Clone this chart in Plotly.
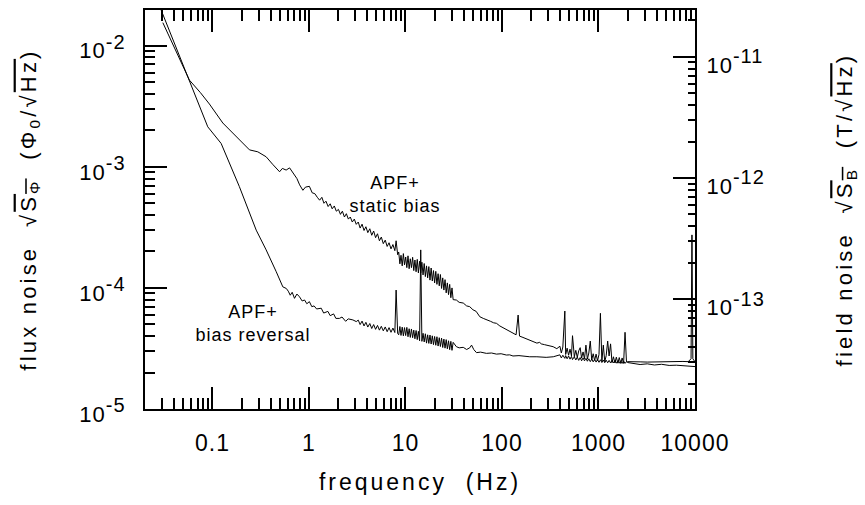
import plotly.graph_objects as go

# ---------------- data ----------------
# static bias, low-frequency sparse part
static_f1 = [0.0306, 0.04, 0.0577, 0.075, 0.093, 0.128, 0.176, 0.242, 0.295, 0.36, 0.42, 0.496, 0.53, 0.58,
             0.63, 0.68, 0.75, 0.80, 0.865, 0.92, 1.01, 1.08, 1.15, 1.22, 1.29, 1.36, 1.43, 1.50, 1.58, 1.66,
             1.74, 1.83, 1.92, 2.02, 2.12, 2.22, 2.33, 2.44, 2.56, 2.68, 2.81, 2.95, 3.09]
static_s1 = [0.0155, 0.0098, 0.0052, 0.0041, 0.0033, 0.0023, 0.00177, 0.00138, 0.00133, 0.00121, 0.00105,
             9.1e-4, 9.7e-4, 9.4e-4, 9.8e-4, 8.9e-4, 8.0e-4, 7.1e-4, 6.4e-4, 6.8e-4, 6.9e-4, 6.1e-4, 6.0e-4,
             5.6e-4, 5.3e-4, 5.6e-4, 5.0e-4, 5.2e-4, 4.7e-4, 4.95e-4, 4.5e-4, 4.75e-4, 4.3e-4, 4.45e-4,
             4.05e-4, 4.3e-4, 3.85e-4, 4.1e-4, 3.7e-4, 3.85e-4, 3.5e-4, 3.7e-4, 3.35e-4]

# bias reversal, low-frequency sparse part
rev_f1 = [0.0294, 0.0577, 0.0894, 0.123, 0.19, 0.284, 0.36, 0.458, 0.536, 0.582, 0.61, 0.64, 0.67, 0.708,
          0.75, 0.797, 0.85, 0.90, 0.95, 1.01, 1.07, 1.13, 1.2, 1.34, 1.42, 1.57, 1.66, 1.8, 1.9, 2.07, 2.2,
          2.4, 2.55, 2.85, 3.09]
rev_s1 = [0.0197, 0.0052, 0.00214, 0.00156, 6.86e-4, 3.0e-4, 2.06e-4, 1.36e-4, 1.02e-4, 9.9e-5, 9.4e-5,
          8.7e-5, 9.2e-5, 8.2e-5, 8.9e-5, 8.45e-5, 7.8e-5, 7.95e-5, 7.4e-5, 7.7e-5, 7.0e-5, 7.1e-5, 6.7e-5,
          6.8e-5, 6.2e-5, 6.4e-5, 5.9e-5, 6.1e-5, 5.6e-5, 5.6e-5, 5.75e-5, 5.3e-5, 5.55e-5, 5.44e-5, 5.27e-5]

# dense noisy part 3.2 - 8.3 Hz (shared frequency bins)
dense_f2 = [3.24, 3.39, 3.55, 3.72, 3.89, 4.07, 4.27, 4.47, 4.68, 4.90, 5.13, 5.37, 5.62, 5.89, 6.17, 6.46,
            6.76, 7.08, 7.41, 7.76, 8.0, 8.13, 8.3]
static_s2 = [3.5e-4, 3.12e-4, 3.36e-4, 2.98e-4, 3.2e-4, 2.86e-4, 3.08e-4, 2.72e-4, 2.95e-4, 2.6e-4, 2.8e-4,
             2.45e-4, 2.63e-4, 2.32e-4, 2.48e-4, 2.2e-4, 2.36e-4, 2.1e-4, 2.28e-4, 2.03e-4, 2.45e-4, 2.25e-4,
             1.88e-4]
rev_s2 = [5.42e-5, 4.98e-5, 5.32e-5, 4.85e-5, 5.2e-5, 4.75e-5, 5.08e-5, 4.62e-5, 4.98e-5, 4.55e-5, 4.9e-5,
          4.48e-5, 4.82e-5, 4.42e-5, 4.76e-5, 4.35e-5, 4.7e-5, 4.3e-5, 4.66e-5, 4.28e-5, 9.6e-5, 5.0e-5, 4.2e-5]

# dense noisy part 8.5 - 31 Hz
dense_f3 = [8.51, 8.75, 8.99, 9.25, 9.51, 9.77, 10.05, 10.33, 10.62, 10.91, 11.22, 11.53, 11.86, 12.19, 12.53,
            12.88, 13.24, 13.61, 14.0, 14.39, 14.79, 15.21, 15.63, 16.07, 16.52, 16.98, 17.46, 17.95, 18.45,
            18.97, 19.5, 20.04, 20.61, 21.18, 21.78, 22.39, 23.01, 23.66, 24.32, 25.0, 25.7, 26.42, 27.16,
            27.93, 28.71, 29.51, 30.34, 31.19]
static_s3 = [1.98e-4, 1.58e-4, 1.86e-4, 1.52e-4, 1.92e-4, 1.55e-4, 1.80e-4, 1.47e-4, 1.84e-4, 1.44e-4,
             1.74e-4, 1.47e-4, 1.79e-4, 1.39e-4, 1.70e-4, 1.36e-4, 1.72e-4, 1.33e-4, 1.66e-4, 1.33e-4,
             1.63e-4, 1.28e-4, 1.59e-4, 1.24e-4, 1.52e-4, 1.21e-4, 1.50e-4, 1.16e-4, 1.46e-4, 1.14e-4,
             1.39e-4, 1.10e-4, 1.37e-4, 1.07e-4, 1.31e-4, 1.04e-4, 1.29e-4, 0.99e-4, 1.21e-4, 0.96e-4,
             1.17e-4, 0.91e-4, 1.10e-4, 0.88e-4, 1.07e-4, 0.83e-4, 1.00e-4, 0.80e-4]
rev_s3 = [4.10e-5, 4.80e-5, 4.05e-5, 4.74e-5, 4.02e-5, 4.70e-5, 4.04e-5, 4.72e-5, 3.95e-5, 4.60e-5, 3.90e-5,
          4.58e-5, 3.88e-5, 4.48e-5, 3.80e-5, 4.45e-5, 3.74e-5, 4.38e-5, 3.66e-5, 2.06e-4, 3.62e-5, 4.22e-5,
          3.58e-5, 4.18e-5, 3.50e-5, 4.10e-5, 3.48e-5, 4.08e-5, 3.44e-5, 4.02e-5, 3.40e-5, 3.97e-5, 3.36e-5,
          3.95e-5, 3.31e-5, 3.88e-5, 3.28e-5, 3.85e-5, 3.22e-5, 3.78e-5, 3.18e-5, 3.74e-5, 3.14e-5, 3.66e-5,
          3.09e-5, 3.62e-5, 3.05e-5, 3.55e-5]

# mid span, sparse part 33 - 370 Hz
static_f4 = [33.7, 36, 39.7, 43, 46.3, 50, 54, 58.9, 64, 70, 76, 82, 87.7, 95, 104, 113, 122, 130, 140, 147,
             152, 165, 180, 194, 210, 230, 246, 255, 275, 300, 339, 370]
static_s4 = [7.94e-5, 7.6e-5, 7.5e-5, 7.1e-5, 7.0e-5, 6.6e-5, 6.4e-5, 5.78e-5, 5.6e-5, 5.4e-5, 5.3e-5,
             5.15e-5, 5.1e-5, 4.85e-5, 4.65e-5, 4.5e-5, 4.35e-5, 4.22e-5, 4.1e-5, 5.97e-5, 4.0e-5, 3.9e-5,
             3.8e-5, 3.72e-5, 3.6e-5, 3.5e-5, 3.55e-5, 3.45e-5, 3.4e-5, 3.35e-5, 3.27e-5, 3.15e-5]
rev_f4 = [33.7, 36, 39.7, 43, 46.3, 48.4, 51, 54.4, 60, 69, 78, 87.7, 98, 111, 120, 130, 150, 170, 194, 230,
          287, 340]
rev_s4 = [3.27e-5, 3.2e-5, 3.23e-5, 3.1e-5, 3.2e-5, 3.37e-5, 3.1e-5, 2.92e-5, 2.95e-5, 2.88e-5, 2.9e-5,
          2.84e-5, 2.86e-5, 2.79e-5, 2.8e-5, 2.74e-5, 2.76e-5, 2.72e-5, 2.7e-5, 2.7e-5, 2.67e-5, 2.7e-5]

# mid span, dense part 400 - 1950 Hz (shared bins, with mains harmonics)
dense_f5 = [398, 412, 427, 448, 457, 473, 490, 507, 525, 538, 562, 582, 603, 624, 646, 668, 692, 716, 741,
            767, 794, 822, 851, 881, 912, 944, 977, 1012, 1047, 1084, 1122, 1161, 1202, 1245, 1288, 1334,
            1380, 1429, 1479, 1531, 1585, 1641, 1698, 1758, 1820, 1884, 1950]
static_s5 = [3.3e-5, 2.9e-5, 3.25e-5, 6.44e-5, 2.82e-5, 3.18e-5, 2.78e-5, 3.12e-5, 2.74e-5, 4.03e-5, 2.7e-5,
             3.05e-5, 2.67e-5, 3.02e-5, 3.21e-5, 2.63e-5, 2.96e-5, 2.6e-5, 3.37e-5, 2.58e-5, 2.9e-5, 3.64e-5,
             2.54e-5, 2.86e-5, 2.52e-5, 2.84e-5, 2.5e-5, 2.82e-5, 6.17e-5, 2.48e-5, 3.37e-5, 2.46e-5,
             2.76e-5, 3.64e-5, 2.74e-5, 3.45e-5, 2.42e-5, 2.7e-5, 2.4e-5, 2.68e-5, 2.39e-5, 2.66e-5, 2.38e-5,
             2.64e-5, 2.38e-5, 4.3e-5, 2.46e-5]
rev_s5 = [2.8e-5, 2.64e-5, 2.78e-5, 2.62e-5, 2.76e-5, 2.6e-5, 2.74e-5, 2.58e-5, 2.72e-5, 2.56e-5, 2.7e-5,
          2.54e-5, 2.68e-5, 2.52e-5, 2.66e-5, 2.5e-5, 2.64e-5, 2.5e-5, 2.62e-5, 2.48e-5, 2.6e-5, 2.46e-5,
          2.58e-5, 2.45e-5, 2.57e-5, 2.44e-5, 2.56e-5, 2.43e-5, 2.55e-5, 2.42e-5, 2.54e-5, 2.41e-5, 2.53e-5,
          2.41e-5, 2.52e-5, 2.4e-5, 2.52e-5, 2.4e-5, 2.51e-5, 2.39e-5, 2.5e-5, 2.39e-5, 2.5e-5, 2.38e-5,
          2.49e-5, 2.38e-5, 2.46e-5]

# high span 2 - 10 kHz
static_f6 = [2000, 2300, 2700, 3200, 3800, 4500, 5400, 6400, 7500, 8500, 9100, 9300, 9500, 10000]
static_s6 = [2.46e-5, 2.44e-5, 2.45e-5, 2.44e-5, 2.45e-5, 2.47e-5, 2.48e-5, 2.48e-5, 2.47e-5, 2.46e-5,
             2.6e-5, 2.74e-4, 2.6e-5, 2.45e-5]
rev_f6 = [2000, 2300, 2700, 3200, 3800, 4500, 5400, 6400, 7500, 8500, 9500, 10000]
rev_s6 = [2.42e-5, 2.38e-5, 2.33e-5, 2.36e-5, 2.31e-5, 2.34e-5, 2.29e-5, 2.3e-5, 2.27e-5, 2.26e-5, 2.25e-5,
          2.24e-5]

x_tickvals = [0.1, 1, 10, 100, 1000, 10000]
x_ticktext = ["0.1", "1", "10", "100", "1000", "10000"]
y_tickvals = [1e-5, 1e-4, 1e-3, 1e-2]
y_exponents = ["-5", "-4", "-3", "-2"]
y2_tickvals = [1e-13, 1e-12, 1e-11]
y2_exponents = ["-13", "-12", "-11"]
# --------------------------------------------------------------

static_f = static_f1 + dense_f2 + dense_f3 + static_f4 + dense_f5 + static_f6
static_s = static_s1 + static_s2 + static_s3 + static_s4 + static_s5 + static_s6
rev_f = rev_f1 + dense_f2 + dense_f3 + rev_f4 + dense_f5 + rev_f6
rev_s = rev_s1 + rev_s2 + rev_s3 + rev_s4 + rev_s5 + rev_s6

FONT = "Liberation Sans, Arial, sans-serif"
OV = "<span style='text-decoration:overline'>"


def power_label(e):
    return "10<sup><span style='font-size:20px'>" + e + "</span></sup>"


fig = go.Figure()
fig.add_trace(go.Scatter(x=static_f, y=static_s, mode="lines", line=dict(color="black", width=1),
                         showlegend=False, name="APF+ static bias"))
fig.add_trace(go.Scatter(x=rev_f, y=rev_s, mode="lines", line=dict(color="black", width=1),
                         showlegend=False, name="APF+ bias reversal"))
# invisible trace that carries the right-hand field axis
fig.add_trace(go.Scatter(x=[1], y=[1e-12], yaxis="y2", mode="markers", marker=dict(opacity=0),
                         showlegend=False, hoverinfo="skip"))

axis_common = dict(showline=True, linecolor="black", linewidth=2, ticks="inside", tickcolor="black",
                   tickwidth=1.5, ticklen=22, showgrid=False, zeroline=False, automargin=False)

fig.update_layout(
    width=865, height=505,
    margin=dict(l=145, r=170, t=10, b=96),
    paper_bgcolor="white", plot_bgcolor="white",
    font=dict(family=FONT, color="black"),
    xaxis=dict(type="log", range=[-1.699, 4], tickmode="array", tickvals=x_tickvals, ticktext=x_ticktext,
               mirror="ticks", ticklabelstandoff=12, tickfont=dict(family=FONT, size=23, color="black"),
               minor=dict(ticks="inside", ticklen=11, tickwidth=1.5, tickcolor="black", dtick="D1"),
               title=dict(text="frequency\u00a0\u00a0(Hz)", font=dict(family=FONT, size=23), standoff=19),
               **axis_common),
    yaxis=dict(type="log", range=[-5, -1.705], tickmode="array", tickvals=y_tickvals,
               ticktext=[power_label(e) for e in y_exponents],
               tickfont=dict(family=FONT, size=22, color="black"),
               minor=dict(ticks="inside", ticklen=10, tickwidth=1.5, tickcolor="black", dtick="D1"),
               ticklabelstandoff=13, ticklabelshift=5,
               title=dict(text="flux noise\u00a0\u00a0√" + OV + "S<sub>Φ</sub></span>\u00a0\u00a0(Φ<sub>0</sub>/√"
                          + OV + "Hz</span>)", font=dict(family=FONT, size=22), standoff=41),
               **axis_common),
    yaxis2=dict(type="log", range=[-13.908, -10.613], overlaying="y", side="right", tickmode="array",
                tickvals=y2_tickvals, ticktext=[power_label(e) for e in y2_exponents],
                tickfont=dict(family=FONT, size=22, color="black"),
                ticklabelstandoff=5, ticklabelshift=8,
                minor=dict(ticks="inside", ticklen=7, tickwidth=1.5, tickcolor="black", dtick="D1"),
                title=dict(text="field noise\u00a0\u00a0√" + OV + "S<sub>B</sub></span>\u00a0\u00a0(T/√"
                           + OV + "Hz</span>)", font=dict(family=FONT, size=22), standoff=78),
                **axis_common),
    annotations=[
        dict(x=0.895, y=-3.23, xref="x", yref="y", text="APF+<br>static bias", showarrow=False,
             font=dict(family=FONT, size=18, color="black"), align="center"),
        dict(x=-0.575, y=-4.29, xref="x", yref="y", text="APF+<br>bias reversal", showarrow=False,
             font=dict(family=FONT, size=18, color="black"), align="center"),
    ],
)

# page without the default body margin; the original lettering is slightly letter-spaced
post = """
document.body.style.margin = '0';
document.body.style.padding = '0';
var gd = document.getElementById('{plot_id}');
function spacing(){
  var set = function(sel, v){ gd.querySelectorAll(sel).forEach(function(t){ t.style.letterSpacing = v; }); };
  set('.xtick text, .ytick text, .y2tick text', '1px');
  set('.xtitle', '3px');
  set('.ytitle, .y2title', '3.2px');
  set('.annotation-text', '1px');
}
spacing();
try { gd.on('plotly_afterplot', spacing); } catch (e) {}
setTimeout(spacing, 30);
"""

fig.write_html("out.html", post_script=post, config={"displayModeBar": False})
